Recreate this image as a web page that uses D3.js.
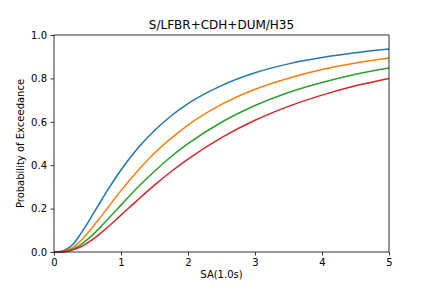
<!DOCTYPE html>
<html>
<head>
<meta charset="utf-8">
<script src="https://cdn.jsdelivr.net/npm/d3@7"></script>
<style>
  body { margin: 0; background: #fff; }
  text { font-family: "DejaVu Sans", sans-serif; fill: #000; }
</style>
</head>
<body>
<svg width="432" height="288"></svg>
<script>
// x positions the curves were read at
const sa = [0, 0.1, 0.2, 0.3, 0.4, 0.5, 0.6, 0.7, 0.8, 1.0, 1.25, 1.5, 1.75, 2.0, 2.5, 3.0, 3.5, 4.0, 4.5, 5.0];

// probability of exceedance
const blue   = [0, 0.002, 0.015, 0.042, 0.085, 0.132, 0.184, 0.235, 0.285, 0.378, 0.478, 0.560, 0.628, 0.684, 0.767, 0.826, 0.867, 0.896, 0.918, 0.935];
const orange = [0, 0.001, 0.008, 0.025, 0.052, 0.086, 0.124, 0.163, 0.203, 0.283, 0.374, 0.456, 0.525, 0.585, 0.680, 0.750, 0.801, 0.841, 0.871, 0.894];
const green  = [0, 0.000, 0.005, 0.016, 0.034, 0.058, 0.086, 0.117, 0.150, 0.216, 0.298, 0.372, 0.440, 0.499, 0.598, 0.675, 0.735, 0.781, 0.819, 0.848];
const red    = [0, 0.000, 0.003, 0.011, 0.024, 0.042, 0.063, 0.088, 0.114, 0.170, 0.240, 0.308, 0.371, 0.428, 0.527, 0.607, 0.671, 0.723, 0.766, 0.800];

const series = [
  {values: blue,   color: "#1f77b4"},
  {values: orange, color: "#ff7f0e"},
  {values: green,  color: "#2ca02c"},
  {values: red,    color: "#d62728"}
];

const xTicks = [0, 1, 2, 3, 4, 5];
const yTicks = [0, 0.2, 0.4, 0.6, 0.8, 1.0];

const svg = d3.select("svg");
const margin = {left: 54, right: 43, top: 35, bottom: 36};
const width  = 432 - margin.left - margin.right;
const height = 288 - margin.top - margin.bottom;

const x = d3.scaleLinear().domain([0, 5]).range([margin.left, margin.left + width]);
const y = d3.scaleLinear().domain([0, 1]).range([margin.top + height, margin.top]);

// curves
const line = d3.line()
  .curve(d3.curveMonotoneX)
  .x((d, i) => x(sa[i]))
  .y(d => y(d));

svg.append("g")
  .selectAll("path")
  .data(series)
  .enter()
  .append("path")
  .attr("d", d => line(d.values))
  .attr("fill", "none")
  .attr("stroke", d => d.color)
  .attr("stroke-width", 1.5)
  .attr("stroke-linejoin", "round");

// axes
const xAxis = svg.append("g")
  .attr("transform", `translate(0,${margin.top + height})`)
  .call(d3.axisBottom(x).tickValues(xTicks).tickFormat(d3.format("d")).tickSizeInner(3.5).tickSizeOuter(0).tickPadding(3.5));

const yAxis = svg.append("g")
  .attr("transform", `translate(${margin.left},0)`)
  .call(d3.axisLeft(y).tickValues(yTicks).tickFormat(d3.format(".1f")).tickSizeInner(3.5).tickSizeOuter(0).tickPadding(3.5));

[xAxis, yAxis].forEach(a => {
  a.select(".domain").remove();
  a.selectAll("line").attr("stroke", "#000").attr("stroke-width", 0.8);
  a.selectAll("text").attr("font-size", 10).attr("font-family", "DejaVu Sans, sans-serif");
});

// frame
svg.append("rect")
  .attr("x", margin.left)
  .attr("y", margin.top)
  .attr("width", width)
  .attr("height", height)
  .attr("fill", "none")
  .attr("stroke", "#000")
  .attr("stroke-width", 0.8);

// labels
svg.append("text")
  .attr("x", margin.left + width / 2)
  .attr("y", 29)
  .attr("text-anchor", "middle")
  .attr("font-size", 12)
  .text("S/LFBR+CDH+DUM/H35");

svg.append("text")
  .attr("x", margin.left + width / 2)
  .attr("y", 278)
  .attr("text-anchor", "middle")
  .attr("font-size", 10)
  .text("SA(1.0s)");

svg.append("text")
  .attr("transform", `translate(24,${margin.top + height / 2}) rotate(-90)`)
  .attr("text-anchor", "middle")
  .attr("font-size", 10)
  .text("Probability of Exceedance");
</script>
</body>
</html>
